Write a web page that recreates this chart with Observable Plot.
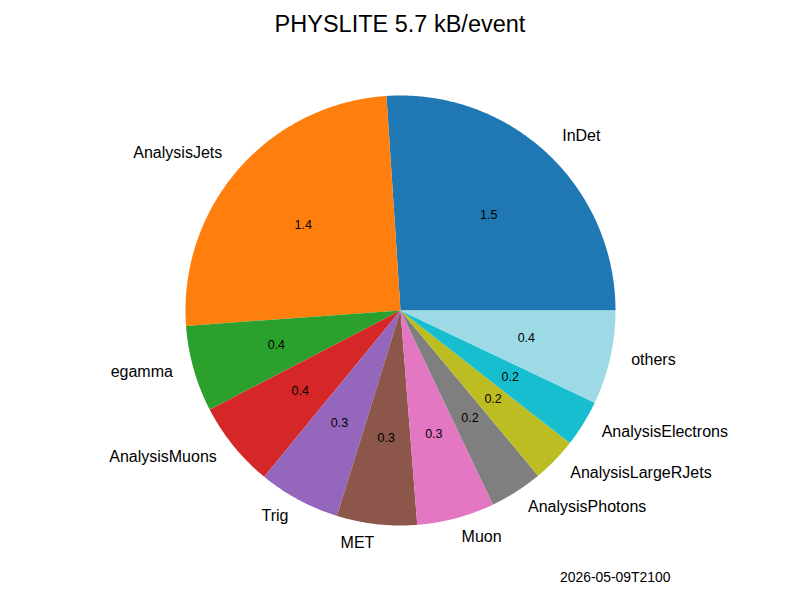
<!DOCTYPE html>
<html><head><meta charset="utf-8">
<script src="https://cdn.jsdelivr.net/npm/d3@7"></script>
<script src="https://cdn.jsdelivr.net/npm/@observablehq/plot@0.6"></script>
<style>
body{margin:0;background:#fff;font-family:"Liberation Sans",Arial,sans-serif;color:#000;}
#wrap{position:relative;width:800px;height:600px;overflow:hidden;}
#title{height:48px;line-height:48px;font-size:23.5px;text-align:center;}
#chart svg{display:block;}
#caption{position:absolute;left:560px;top:570px;font-size:13.9px;line-height:14px;white-space:nowrap;}
</style></head><body>
<div id="wrap"><div id="title"></div><div id="chart"></div><div id="caption"></div></div>
<script>
const sampleName = "PHYSLITE";
const timestamp = "2026-05-09T2100";
const categories = ["InDet","AnalysisJets","egamma","AnalysisMuons","Trig","MET","Muon","AnalysisPhotons","AnalysisLargeRJets","AnalysisElectrons","others"];
const sizes = [1.473, 1.42, 0.367, 0.364, 0.349, 0.34, 0.33, 0.225, 0.191, 0.199, 0.399];
const colors = ["#1f77b4","#ff7f0e","#2ca02c","#d62728","#9467bd","#8c564b","#e377c2","#7f7f7f","#bcbd22","#17becf","#9edae5"];

const total = d3.sum(sizes);
document.getElementById("title").textContent = `${sampleName} ${total.toFixed(1)} kB/event`;
document.getElementById("caption").textContent = timestamp;

let cum = 0;
const wedges = categories.map((name, i) => {
  const a0 = cum / total * 2 * Math.PI;
  cum += sizes[i];
  const a1 = cum / total * 2 * Math.PI;
  return {name, value: sizes[i], a0, a1, mid: (a0 + a1) / 2};
});
const outline = [];
for (const w of wedges) {
  outline.push({name: w.name, x: 0, y: 0});
  const n = Math.max(2, Math.ceil((w.a1 - w.a0) / (Math.PI / 360)));
  for (let k = 0; k <= n; k++) {
    const a = w.a0 + (w.a1 - w.a0) * k / n;
    outline.push({name: w.name, x: Math.cos(a), y: Math.sin(a)});
  }
  outline.push({name: w.name, x: 0, y: 0});
}

const W = 800, H = 512, R = 215, cx = 400, cy = 262;
const labelDist = 1.1, pctDist = 0.6;
const right = wedges.filter(w => Math.cos(w.mid) > 0);
const left = wedges.filter(w => Math.cos(w.mid) <= 0);

const chart = Plot.plot({
  width: W, height: H, margin: 0,
  x: {domain: [-cx / R, (W - cx) / R], axis: null},
  y: {domain: [-(H - cy) / R, cy / R], axis: null},
  color: {domain: categories, range: colors},
  style: {fontFamily: "'Liberation Sans', Arial, sans-serif", color: "#000", background: "transparent"},
  marks: [
    Plot.line(outline, {x: "x", y: "y", z: "name", fill: "name", stroke: "none", curve: "linear"}),
    Plot.text(right, {x: w => labelDist * Math.cos(w.mid), y: w => labelDist * Math.sin(w.mid), text: "name", textAnchor: "start", fontSize: 16, dy: -2.5, fill: "#000"}),
    Plot.text(left, {x: w => labelDist * Math.cos(w.mid), y: w => labelDist * Math.sin(w.mid), text: "name", textAnchor: "end", fontSize: 16, dy: -2.5, fill: "#000"}),
    Plot.text(wedges, {x: w => pctDist * Math.cos(w.mid), y: w => pctDist * Math.sin(w.mid), text: w => w.value.toFixed(1), fontSize: 12.5, dy: -1, fill: "#000"})
  ]
});
document.getElementById("chart").appendChild(chart);
</script>
</body></html>
